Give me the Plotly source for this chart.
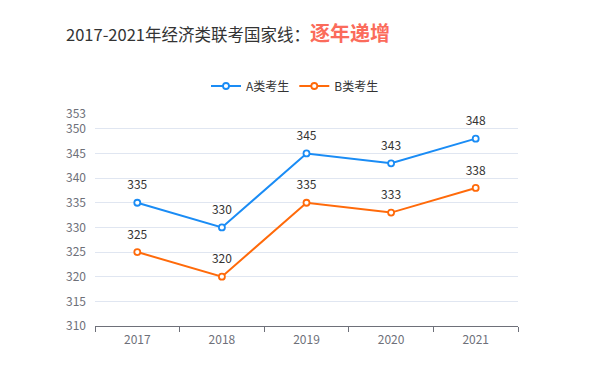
import plotly.graph_objects as go

years = ["2017", "2018", "2019", "2020", "2021"]
series_a = [335, 330, 345, 343, 348]
series_b = [325, 320, 335, 333, 338]
name_a = "A类考生"
name_b = "B类考生"
y_ticks = [310, 315, 320, 325, 330, 335, 340, 345, 350, 353]

FONT = "Noto Sans CJK SC"
# page body has an 8px margin; figure coords are page coords minus 8
OFF = 8
W, H = 591, 367
L, T, R, B = 95 - OFF, 114 - OFF, W - (518 - OFF), H - (326 - OFF)
plot_h = H - T - B
plot_w = W - L - R

fig = go.Figure()
for name, vals, col in [(name_a, series_a, "#1a8cf5"), (name_b, series_b, "#ff6a0a")]:
    fig.add_trace(go.Scatter(
        x=years, y=vals, name=name, mode="lines+markers",
        line=dict(color=col, width=2),
        marker=dict(symbol="circle", size=6, color="white", line=dict(color=col, width=1.8)),
        cliponaxis=False,
    ))
for vals in (series_a, series_b):
    fig.add_trace(go.Scatter(
        x=years, y=vals, mode="markers+text", showlegend=False, hoverinfo="skip",
        marker=dict(size=15, color="rgba(0,0,0,0)"),
        text=[str(v) for v in vals], textposition="top center",
        textfont=dict(family=FONT, size=12, color="#333333"),
        cliponaxis=False,
    ))

fig.update_layout(
    width=W, height=H,
    paper_bgcolor="white", plot_bgcolor="white",
    margin=dict(l=L, r=R, t=T, b=B),
    font=dict(family=FONT),
    title=dict(
        text="2017-2021年经济类联考国家线：<b><span style='color:#fb6b5b;font-size:20px'>逐年递增</span></b>",
        x=(66 - OFF) / W, xanchor="left", y=1 - (35 - OFF) / H, yanchor="middle",
        font=dict(family=FONT, size=16.5, color="#333333"),
    ),
    legend=dict(
        orientation="h",
        xref="paper", x=(295 - OFF - L) / plot_w, xanchor="center",
        yref="paper", y=1 + (T - (86 - OFF)) / plot_h, yanchor="middle",
        font=dict(family=FONT, size=12, color="#333333"),
        itemwidth=30, tracegroupgap=0,
    ),
    xaxis=dict(
        type="category", range=[-0.5, 4.5], tickson="boundaries", ticks="outside",
        ticklen=5, tickcolor="#6e7079", showline=True, linecolor="#6e7079",
        showgrid=False, ticklabelstandoff=3,
        tickfont=dict(family=FONT, size=12, color="#6e7079"),
    ),
    yaxis=dict(
        range=[310, 353], tickvals=y_ticks, showgrid=True, gridcolor="#e0e6f1",
        zeroline=False, showline=False, ticks="", ticklabelstandoff=8,
        tickfont=dict(family=FONT, size=12, color="#6e7079"),
    ),
)
fig.write_html("out.html")
